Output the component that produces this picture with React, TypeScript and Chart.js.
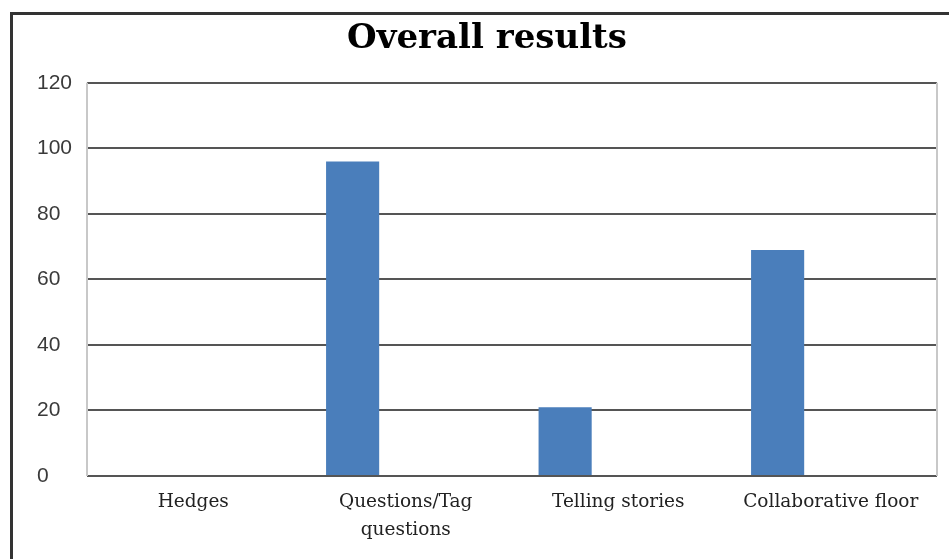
import React, { useEffect, useRef } from "react";
import { Chart, registerables } from "chart.js";

Chart.register(...registerables);

const categories: (string | string[])[] = [
  "Hedges",
  ["Questions/Tag", "questions"],
  "Telling stories",
  "Collaborative floor",
];
const series1: (number | null)[] = [0, 96, 21, 69];
const series2: (number | null)[] = [null, null, null, null];
const series3: (number | null)[] = [null, null, null, null];
const yTicks = [0, 20, 40, 60, 80, 100, 120];

const edgePlugin = {
  id: "edgeLines",
  afterDraw(chart: any) {
    const { ctx, chartArea } = chart;
    ctx.save();
    ctx.strokeStyle = "#c8c8c8";
    ctx.lineWidth = 2;
    ctx.beginPath();
    ctx.moveTo(chartArea.left, chartArea.top);
    ctx.lineTo(chartArea.left, chartArea.bottom);
    ctx.moveTo(chartArea.right, chartArea.top);
    ctx.lineTo(chartArea.right, chartArea.bottom);
    ctx.stroke();
    ctx.restore();
  },
};

export default function App() {
  const ref = useRef<HTMLCanvasElement | null>(null);
  useEffect(() => {
    if (!ref.current) return;
    const chart = new Chart(ref.current, {
      type: "bar",
      data: {
        labels: categories,
        datasets: [
          { label: "Series 1", data: series1, backgroundColor: "#4a7ebb" },
          { label: "Series 2", data: series2, backgroundColor: "#c0504d" },
          { label: "Series 3", data: series3, backgroundColor: "#9bbb59" },
        ],
      },
      plugins: [edgePlugin],
      options: {
        animation: false,
        responsive: false,
        maintainAspectRatio: false,
        layout: { padding: { top: 16, left: 37, right: 12, bottom: 0 } },
        datasets: { bar: { categoryPercentage: 0.75, barPercentage: 1 } },
        plugins: {
          legend: { display: false },
          tooltip: { enabled: false },
          title: {
            display: true,
            text: "Overall results",
            color: "#000",
            font: { family: "'DejaVu Serif'", size: 34, weight: "bold" },
            padding: { top: 3, bottom: 23 },
          },
        },
        scales: {
          x: {
            grid: { display: false, drawTicks: false },
            border: { display: false },
            ticks: {
              color: "#222",
              font: { family: "'DejaVu Serif'", size: 18.5, lineHeight: 1.47 },
              padding: 13,
              maxRotation: 0,
              minRotation: 0,
              autoSkip: false,
            },
            afterFit(scale: any) {
              scale.height = 83;
            },
          },
          y: {
            min: 0,
            max: 120,
            afterBuildTicks(scale: any) {
              scale.ticks = yTicks.map((v) => ({ value: v }));
            },
            grid: { color: "#555", lineWidth: 2, drawTicks: false },
            border: { display: false },
            ticks: {
              color: "#3a3a3a",
              crossAlign: "far",
              font: { family: "'Liberation Sans'", size: 21 },
              padding: 0,
            },
            afterFit(scale: any) {
              scale.width = 50;
            },
          },
        },
      },
    });
    return () => chart.destroy();
  }, []);
  return (
    <div style={{ position: "fixed", left: 0, top: 0, width: 949, height: 559, background: "#fff" }}>
      <canvas ref={ref} width={949} height={559} style={{ position: "absolute", left: 0, top: 0 }} />
      <div
        style={{
          position: "absolute",
          left: 10,
          top: 12,
          width: 939,
          height: 547,
          borderLeft: "3px solid #333",
          borderTop: "3px solid #333",
          boxSizing: "border-box",
          pointerEvents: "none",
        }}
      />
    </div>
  );
}
